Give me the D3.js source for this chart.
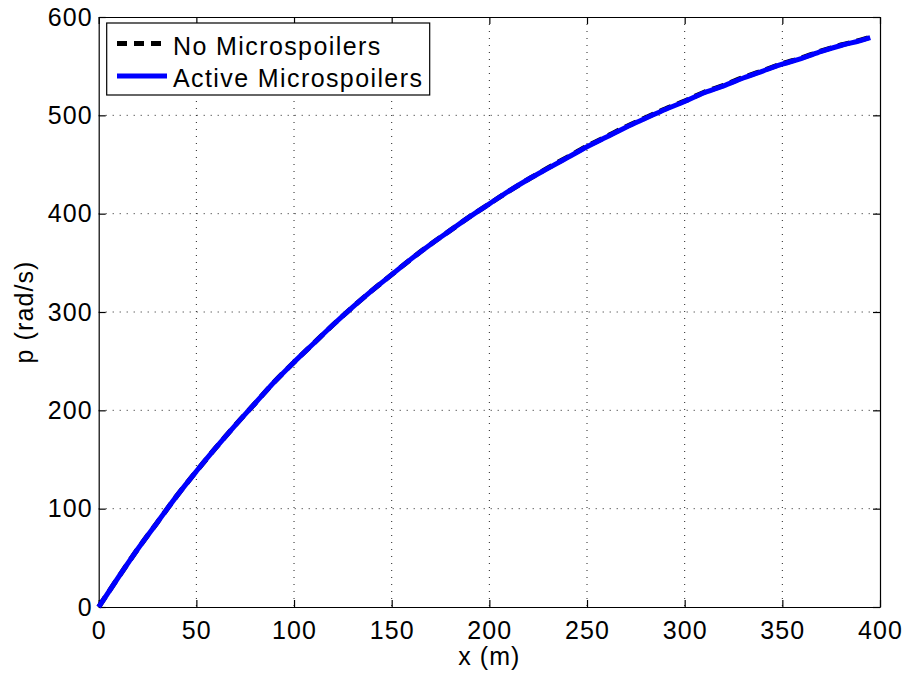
<!DOCTYPE html>
<html>
<head>
<meta charset="utf-8">
<script src="https://cdn.jsdelivr.net/npm/d3@7"></script>
<style>
  body { margin: 0; background: #fff; }
  text { font-family: "Liberation Sans", Arial, sans-serif; }
</style>
</head>
<body>
<div id="chart"></div>
<script>
// Data
const xs = [0, 10, 20, 30, 40, 50, 60, 70, 80, 90, 100, 110, 120, 130, 140, 150, 160, 170, 180, 190,
  200, 210, 220, 230, 240, 250, 260, 270, 280, 290, 300, 310, 320, 330, 340, 350, 360, 370, 380, 390, 395];
const pActive = [0, 30, 59, 86, 113, 138, 162, 185, 207, 229, 249, 268, 287, 305, 322, 338, 354, 369, 383, 397,
  410, 423, 435, 446, 457, 468, 478, 488, 497, 506, 514, 523, 530, 538, 545, 552, 558, 565, 571, 576, 579];
const pNone = [0, 30, 59, 86, 113, 138, 162, 185, 207, 229, 249, 268, 287, 305, 322, 338, 354, 369, 383, 397,
  410, 423, 435, 446.5, 457.5, 468.5, 478.5, 488.5, 497.5, 506.5, 514.5, 523.5, 530.5, 538.5, 545.5, 552.5, 558.5, 565.5, 571.5, 576.5, 579.5];
const xTicks = [0, 50, 100, 150, 200, 250, 300, 350, 400];
const yTicks = [0, 100, 200, 300, 400, 500, 600];
const seriesNames = ["No Microspoilers", "Active Microspoilers"];

function renderChart() {
  const width = 909;
  const height = 674;
  const left = 98.7, right = 880, top = 17, bottom = 607;
  const fontSize = 25;
  const spacing = 1.1;

  const svg = d3.select("#chart")
    .append("svg")
    .attr("width", width)
    .attr("height", height);

  const x = d3.scaleLinear().domain([0, 400]).range([left, right]);
  const y = d3.scaleLinear().domain([0, 600]).range([bottom, top]);

  // Grid lines (dotted)
  svg.append("g")
    .selectAll("line")
    .data(xTicks.slice(1, -1))
    .enter()
    .append("line")
    .attr("x1", d => x(d)).attr("x2", d => x(d))
    .attr("y1", top).attr("y2", bottom)
    .attr("stroke", "#222")
    .attr("stroke-width", 1)
    .attr("stroke-dasharray", "1,6");

  svg.append("g")
    .selectAll("line")
    .data(yTicks.slice(1, -1))
    .enter()
    .append("line")
    .attr("x1", left).attr("x2", right)
    .attr("y1", d => y(d)).attr("y2", d => y(d))
    .attr("stroke", "#222")
    .attr("stroke-width", 1)
    .attr("stroke-dasharray", "1,6");

  // Axes, ticks inward, mirrored on top and right
  const tick = 7;
  const styleText = g => g.selectAll("text")
    .attr("font-size", fontSize)
    .attr("letter-spacing", spacing)
    .attr("fill", "#000")
    .attr("font-family", "Liberation Sans, Arial, sans-serif");

  svg.append("g")
    .attr("transform", `translate(0,${bottom})`)
    .call(d3.axisBottom(x).tickValues(xTicks).tickSizeInner(-tick).tickSizeOuter(0).tickPadding(14))
    .call(styleText);

  svg.append("g")
    .attr("transform", `translate(${left},0)`)
    .call(d3.axisLeft(y).tickValues(yTicks).tickSizeInner(-tick).tickSizeOuter(0).tickPadding(6))
    .call(styleText);

  svg.append("g")
    .attr("transform", `translate(0,${top})`)
    .call(d3.axisTop(x).tickValues(xTicks).tickSizeInner(-tick).tickSizeOuter(0).tickFormat(""));

  svg.append("g")
    .attr("transform", `translate(${right},0)`)
    .call(d3.axisRight(y).tickValues(yTicks).tickSizeInner(-tick).tickSizeOuter(0).tickFormat(""));

  svg.selectAll(".domain, .tick line").attr("stroke", "#000").attr("stroke-width", 1.2);

  // Lines
  const line = d3.line()
    .x((d, i) => x(xs[i]))
    .y(d => y(d))
    .curve(d3.curveMonotoneX);

  svg.append("path")
    .datum(pNone)
    .attr("d", line)
    .attr("fill", "none")
    .attr("stroke", "#000")
    .attr("stroke-width", 5)
    .attr("stroke-dasharray", "12,7");

  svg.append("path")
    .datum(pActive)
    .attr("d", line)
    .attr("fill", "none")
    .attr("stroke", "#0000ff")
    .attr("stroke-width", 5);

  // Axis labels
  svg.append("text")
    .attr("x", (left + right) / 2)
    .attr("y", 665)
    .attr("text-anchor", "middle")
    .attr("font-size", fontSize)
    .attr("letter-spacing", spacing)
    .text("x (m)");

  svg.append("text")
    .attr("transform", `translate(33,${(top + bottom) / 2}) rotate(-90)`)
    .attr("text-anchor", "middle")
    .attr("font-size", fontSize)
    .attr("letter-spacing", spacing)
    .text("p (rad/s)");

  // Legend
  const legend = svg.append("g");
  legend.append("rect")
    .attr("x", 106.7).attr("y", 23)
    .attr("width", 323).attr("height", 72)
    .attr("fill", "#fff")
    .attr("stroke", "#000")
    .attr("stroke-width", 1.2);

  const legendStyles = [
    { stroke: "#000", dash: "10,7" },
    { stroke: "#0000ff", dash: null }
  ];

  seriesNames.forEach((name, i) => {
    const cy = 43.5 + i * 32.5;
    legend.append("line")
      .attr("x1", 117).attr("x2", 167)
      .attr("y1", cy).attr("y2", cy)
      .attr("stroke", legendStyles[i].stroke)
      .attr("stroke-width", 5)
      .attr("stroke-dasharray", legendStyles[i].dash);
    legend.append("text")
      .attr("x", 173)
      .attr("y", cy + 11)
      .attr("font-size", fontSize)
      .attr("letter-spacing", 1.4)
      .text(name);
  });
}

renderChart();
</script>
</body>
</html>
